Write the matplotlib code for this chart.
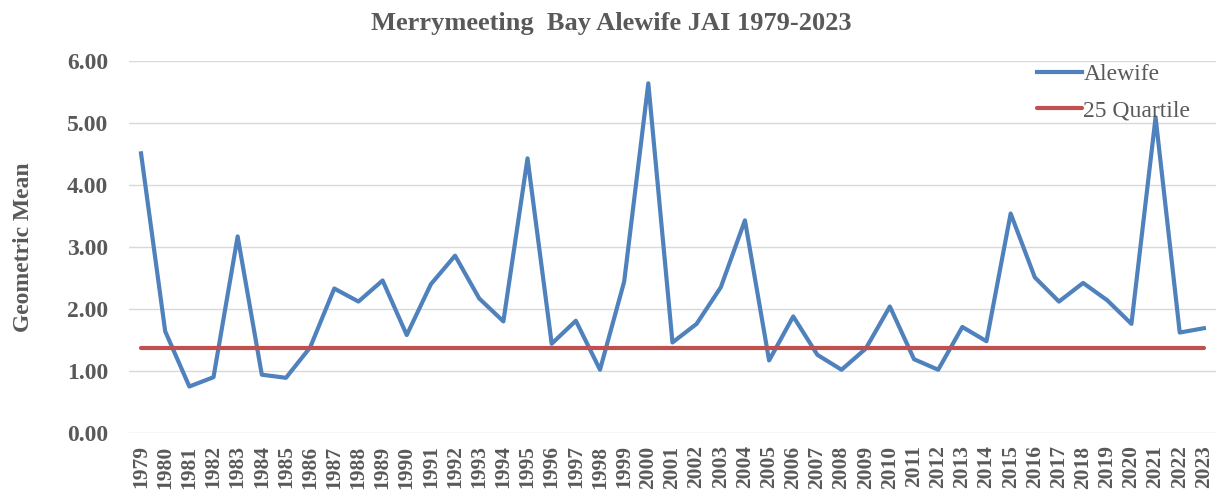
import matplotlib
matplotlib.use("Agg")
import matplotlib.pyplot as plt

years = list(range(1979, 2024))
alewife = [4.51, 1.64, 0.75, 0.90, 3.17, 0.94, 0.89, 1.38, 2.33, 2.12,
           2.46, 1.58, 2.40, 2.86, 2.17, 1.80, 4.43, 1.44, 1.81, 1.02,
           2.44, 5.64, 1.46, 1.76, 2.35, 3.43, 1.17, 1.88, 1.26, 1.02,
           1.36, 2.04, 1.19, 1.02, 1.71, 1.48, 3.54, 2.51, 2.12, 2.42,
           2.14, 1.76, 5.09, 1.62, 1.69]
quartile_value = 1.37
quartile = [quartile_value] * len(years)
yticks = [0, 1, 2, 3, 4, 5, 6]

grey = "#595959"
plt.rcParams['font.family'] = ['Liberation Serif', 'DejaVu Serif']

fig = plt.figure(figsize=(12.2, 4.97), dpi=100)
ax = fig.add_axes([0.1057, 0.1288, 0.8910, 0.7485])

x = list(range(len(years)))
ax.plot(x, alewife, color="#4F81BD", lw=3.0, label="Alewife", solid_joinstyle="round", zorder=3)
ax.plot(x, quartile, color="#C0504D", lw=3.0, label="25 Quartile", solid_capstyle="round", zorder=3)

ax.set_xlim(-0.5, len(years) - 0.5)
ax.set_ylim(0, 6)
ax.set_yticks(yticks)
ax.set_yticklabels([f"{v:.2f}" for v in yticks], fontsize=17, fontweight="bold", color=grey)
ax.set_xticks(x)
ax.set_xticklabels([str(y) for y in years], rotation=90, fontsize=15.5, fontweight="bold",
                   color=grey, va="top")
ax.tick_params(axis="both", length=0)
ax.tick_params(axis="y", pad=15)
ax.tick_params(axis="x", pad=9)
ax.grid(axis="y", color="#D9D9D9", lw=1.0)
ax.set_axisbelow(True)
for s in ax.spines.values():
    s.set_visible(False)

ax.set_ylabel("Geometric Mean", fontsize=17, fontweight="bold", color=grey, labelpad=24)
fig.suptitle("Merrymeeting  Bay Alewife JAI 1979-2023", fontsize=19, fontweight="bold",
             color=grey, x=0.501, y=0.975)

leg = ax.legend(loc="upper right", bbox_to_anchor=(0.996, 1.05), frameon=False,
                fontsize=17, handlelength=1.9, handletextpad=0.05, labelspacing=0.62,
                labelcolor=grey)

fig.savefig("out.png", dpi=100)
